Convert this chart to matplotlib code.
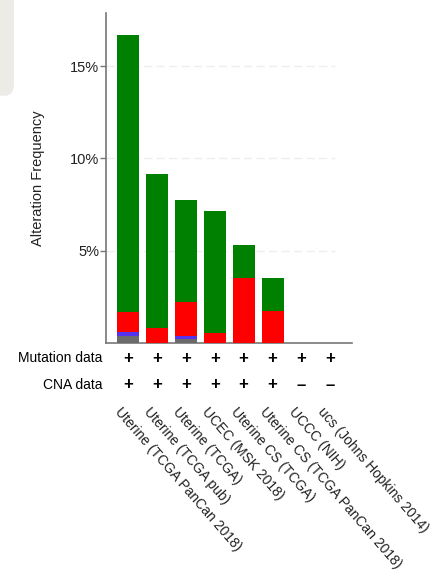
import matplotlib.pyplot as plt
import matplotlib.transforms as mtransforms
from matplotlib.patches import FancyBboxPatch
import numpy as np

plt.rcParams['font.family'] = ['Liberation Sans', 'DejaVu Sans']

studies = ["Uterine (TCGA PanCan 2018)", "Uterine (TCGA pub)", "Uterine (TCGA)",
           "UCEC (MSK 2018)", "Uterine CS (TCGA)", "Uterine CS (TCGA PanCan 2018)",
           "UCCC (NIH)", "ucs (Johns Hopkins 2014)"]
# alteration frequencies in percent, stacked bottom to top
multiple = [0.38, 0.0, 0.20, 0.0, 0.0, 0.0, 0.0, 0.0]
deep_del = [0.20, 0.0, 0.18, 0.0, 0.0, 0.0, 0.0, 0.0]
amp = [1.12, 0.80, 1.82, 0.52, 3.50, 1.75, 0.0, 0.0]
mutation = [15.0, 8.35, 5.55, 6.63, 1.80, 1.75, 0.0, 0.0]
mut_data = ["+", "+", "+", "+", "+", "+", "+", "+"]
cna_data = ["+", "+", "+", "+", "+", "+", "–", "–"]

fig = plt.figure(figsize=(4.34, 5.8), dpi=100)
fig.patches.append(FancyBboxPatch((-0.05, 0.835), 0.082, 0.2,
                                  boxstyle="round,pad=0,rounding_size=0.02",
                                  transform=fig.transFigure, fc="#ecebe6", ec="none"))

ax = fig.add_axes([0.2442, 0.4086, 0.567, 0.569])
x = np.arange(len(studies))
w = 0.76
bottom = np.zeros(len(studies))
for vals, col in [(multiple, "#6b6b6b"), (deep_del, "#5533ee"), (amp, "#ff0000"), (mutation, "#008000")]:
    ax.bar(x, vals, w, bottom=bottom, color=col, edgecolor="none", zorder=3)
    bottom += np.array(vals)

ax.set_xlim(-0.76, 7.75)
ax.set_ylim(0, 17.88)
ax.set_yticks([5, 10, 15])
ax.set_yticklabels(["5%", "10%", "15%"], fontsize=10.5, color="#222222")
ax.set_xticks([])
for y in [5, 10, 15]:
    ax.axhline(y, color="#eeeeee", lw=1, ls=(0, (6, 3)), zorder=1, xmax=0.93)
for s in ["top", "right"]:
    ax.spines[s].set_visible(False)
ax.spines["left"].set_color("#777777")
ax.spines["bottom"].set_color("#777777")
ax.spines["left"].set_linewidth(1.2)
ax.spines["bottom"].set_linewidth(1.2)
ax.tick_params(axis="y", length=4, width=1, color="#777777", pad=1)
ax.set_ylabel("Alteration Frequency", fontsize=10.5, color="#222222", labelpad=18)

trans = mtransforms.blended_transform_factory(ax.transData, fig.transFigure)
fig.text(0.237, 1 - 358 / 580, "Mutation data", ha="right", va="center", fontsize=10)
fig.text(0.237, 1 - 385 / 580, "CNA data", ha="right", va="center", fontsize=10)
for i in x:
    ax.text(i, 1 - 358 / 580, mut_data[i], transform=trans, ha="center", va="center",
            fontsize=12, fontweight="bold", clip_on=False)
    ax.text(i, 1 - 385 / 580, cna_data[i], transform=trans, ha="center", va="center",
            fontsize=12, fontweight="bold", clip_on=False)
    ax.text(i - 0.18, 1 - 405 / 580, studies[i], transform=trans, ha="left", va="top",
            rotation=-49, rotation_mode="anchor", fontsize=10, color="#222222", clip_on=False)

fig.savefig("out.png", dpi=100)
